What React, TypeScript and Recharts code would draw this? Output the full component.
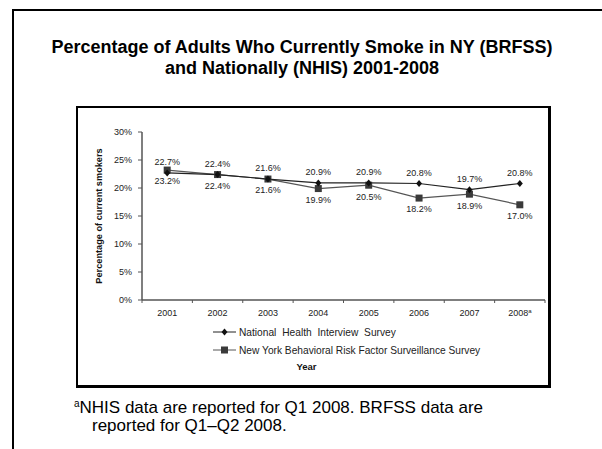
import React from "react";
import { LineChart, Line, XAxis, YAxis, Legend, LabelList } from "recharts";

const years = ["2001", "2002", "2003", "2004", "2005", "2006", "2007", "2008"];
const nhis = [22.7, 22.4, 21.6, 20.9, 20.9, 20.8, 19.7, 20.8];
const brfss = [23.2, 22.4, 21.6, 19.9, 20.5, 18.2, 18.9, 17.0];
const yTicks = [0, 5, 10, 15, 20, 25, 30];

const data = years.map((year, i) => ({ year, nhis: nhis[i], brfss: brfss[i] }));

const FONT = "Arial, 'Liberation Sans', sans-serif";
const CHART_W = 472;
const CHART_H = 279;
const MARGIN = { top: 25, right: 4, left: 0, bottom: 0 };
const Y_W = 65;
const BAND = (CHART_W - Y_W - MARGIN.right) / years.length;

const Diamond = (props: any) => {
  const { cx, cy, index } = props;
  if (cx == null || cy == null) return <g key={index} />;
  return (
    <path
      key={index}
      d={`M${cx},${cy - 3.5}L${cx + 3},${cy}L${cx},${cy + 3.5}L${cx - 3},${cy}Z`}
      fill="#111"
    />
  );
};

const Square = (props: any) => {
  const { cx, cy, index } = props;
  if (cx == null || cy == null) return <g key={index} />;
  return <rect key={index} x={cx - 3.5} y={cy - 3.5} width={7} height={7} fill="#3a3a3a" />;
};

const XTick = (props: any) => {
  const { x, y, payload, index } = props;
  const last = index === years.length - 1;
  return (
    <g>
      <line x1={x - BAND / 2} x2={x - BAND / 2} y1={y} y2={y + 3} stroke="#555" />
      {last && <line x1={x + BAND / 2} x2={x + BAND / 2} y1={y} y2={y + 3} stroke="#555" />}
      <text x={x} y={y + 16} textAnchor="middle" fontSize={9} fill="#222" fontFamily={FONT}>
        {payload.value}
        {last && (
          <tspan fontSize={6} dy={-3}>
            a
          </tspan>
        )}
      </text>
    </g>
  );
};

const LegendBox = () => (
  <div style={{ fontFamily: FONT, fontSize: 10.2, color: "#222" }}>
    <div style={{ display: "flex", alignItems: "center", height: 18, wordSpacing: 3 }}>
      <svg width={24} height={10} style={{ marginRight: 2 }}>
        <line x1={0} x2={23} y1={5} y2={5} stroke="#222" />
        <path d="M11.5,1.5L14.5,5L11.5,8.5L8.5,5Z" fill="#111" />
      </svg>
      National Health Interview Survey
    </div>
    <div style={{ display: "flex", alignItems: "center", height: 18 }}>
      <svg width={24} height={10} style={{ marginRight: 2 }}>
        <line x1={0} x2={23} y1={5} y2={5} stroke="#555" />
        <rect x={8} y={1.5} width={7} height={7} fill="#3a3a3a" />
      </svg>
      New York Behavioral Risk Factor Surveillance Survey
    </div>
  </div>
);

export default function App() {
  return (
    <div
      style={{
        position: "absolute",
        left: 0,
        top: 0,
        width: 602,
        height: 449,
        background: "#fff",
        fontFamily: FONT,
        overflow: "hidden",
      }}
    >
      <div
        style={{
          position: "absolute",
          left: 12,
          top: 9,
          width: 600,
          height: 460,
          border: "2.5px solid #000",
          boxSizing: "border-box",
        }}
      />
      <div
        style={{
          position: "absolute",
          left: 0,
          top: 37,
          width: 604,
          textAlign: "center",
          fontSize: 18,
          fontWeight: "bold",
          lineHeight: "21px",
          color: "#000",
        }}
      >
        Percentage of Adults Who Currently Smoke in NY (BRFSS)
        <br />
        and Nationally (NHIS) 2001-2008
      </div>
      <div
        style={{
          position: "absolute",
          left: 76,
          top: 106,
          width: 475,
          height: 282,
          borderTop: "2px solid #000",
          borderLeft: "2px solid #000",
          borderRight: "3px solid #000",
          borderBottom: "3px solid #000",
          boxSizing: "border-box",
        }}
      />
      <div style={{ position: "absolute", left: 77, top: 107 }}>
        <LineChart width={CHART_W} height={CHART_H} data={data} margin={MARGIN}>
          <XAxis
            dataKey="year"
            scale="band"
            height={CHART_H - MARGIN.top - (300 - 132)}
            tick={<XTick />}
            tickLine={false}
            tickSize={0}
            tickMargin={0}
            interval={0}
            axisLine={{ stroke: "#555", strokeWidth: 1.5 }}
            label={{
              content: (p: any) => {
                const vb = p.viewBox;
                return (
                  <text
                    x={vb.x + vb.width / 2 - 37}
                    y={vb.y + 70}
                    textAnchor="middle"
                    fontSize={9.5}
                    fontWeight="bold"
                    fill="#111"
                    fontFamily={FONT}
                  >
                    Year
                  </text>
                );
              },
            }}
          />
          <YAxis
            width={Y_W}
            domain={[0, 30]}
            ticks={yTicks}
            interval={0}
            tickFormatter={(v: number) => `${v}%`}
            tickSize={4}
            tickMargin={6}
            tick={{ fontSize: 9, fill: "#222", fontFamily: FONT }}
            tickLine={{ stroke: "#555" }}
            axisLine={{ stroke: "#555", strokeWidth: 1.5 }}
            label={{
              content: (p: any) => {
                const vb = p.viewBox;
                const cx = vb.x + 25;
                const cy = vb.y + vb.height / 2;
                return (
                  <text
                    x={cx}
                    y={cy}
                    transform={`rotate(-90 ${cx} ${cy})`}
                    textAnchor="middle"
                    fontSize={9.2}
                    fontWeight="bold"
                    fill="#111"
                    fontFamily={FONT}
                  >
                    Percentage of current smokers
                  </text>
                );
              },
            }}
          />
          <Legend
            layout="vertical"
            align="center"
            verticalAlign="middle"
            content={<LegendBox />}
            wrapperStyle={{ left: 136, top: 216, width: 280 }}
          />
          <Line
            type="linear"
            dataKey="brfss"
            name="New York Behavioral Risk Factor Surveillance Survey"
            stroke="#555"
            strokeWidth={1.2}
            dot={<Square />}
            activeDot={false}
            isAnimationActive={false}
          >
            <LabelList
              dataKey="brfss"
              position="bottom"
              offset={8}
              formatter={(v: any) => `${Number(v).toFixed(1)}%`}
              style={{ fontSize: 9, fill: "#222", fontFamily: FONT }}
            />
          </Line>
          <Line
            type="linear"
            dataKey="nhis"
            name="National Health Interview Survey"
            stroke="#222"
            strokeWidth={1.2}
            dot={<Diamond />}
            activeDot={false}
            isAnimationActive={false}
          >
            <LabelList
              dataKey="nhis"
              position="top"
              offset={8}
              formatter={(v: any) => `${Number(v).toFixed(1)}%`}
              style={{ fontSize: 9, fill: "#222", fontFamily: FONT }}
            />
          </Line>
        </LineChart>
      </div>
      <div
        style={{
          position: "absolute",
          left: 74,
          top: 395,
          fontSize: 17,
          lineHeight: "18px",
          color: "#000",
        }}
      >
        <span style={{ fontSize: 10, verticalAlign: "6px" }}>a</span>NHIS data are reported for Q1 2008. BRFSS data are
        <br />
        <span style={{ paddingLeft: 18 }}>reported for Q1–Q2 2008.</span>
      </div>
    </div>
  );
}
